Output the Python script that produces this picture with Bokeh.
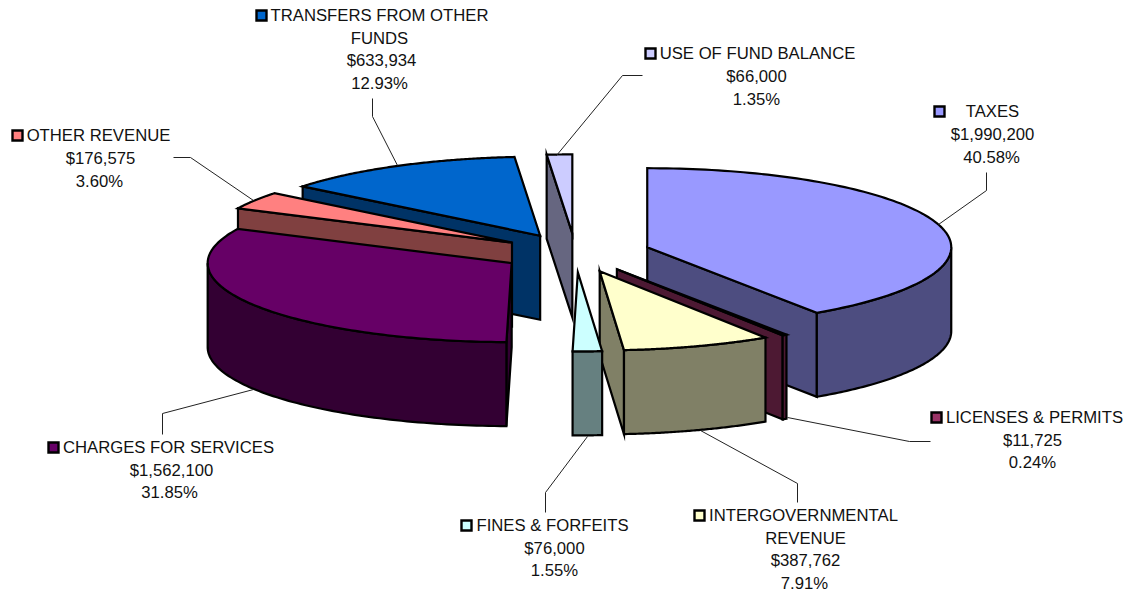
import numpy as np
from bokeh.plotting import figure
from bokeh.models import Range1d
from bokeh.core.properties import value
from bokeh.embed import file_html
from bokeh.resources import INLINE

# ---- data (clockwise from 12 o'clock) ----
names = ["TAXES", "LICENSES & PERMITS", "INTERGOVERNMENTAL REVENUE", "FINES & FORFEITS",
         "CHARGES FOR SERVICES", "OTHER REVENUE", "TRANSFERS FROM OTHER FUNDS", "USE OF FUND BALANCE"]
amounts = [1990200, 11725, 387762, 76000, 1562100, 176575, 633934, 66000]
percent_labels = ["40.58%", "0.24%", "7.91%", "1.55%", "31.85%", "3.60%", "12.93%", "1.35%"]
amount_labels = ["$1,990,200", "$11,725", "$387,762", "$76,000", "$1,562,100", "$176,575", "$633,934", "$66,000"]
top_colors = ["#9999FF", "#993366", "#FFFFCC", "#CCFFFF", "#660066", "#FF8080", "#0066CC", "#CCCCFF"]
side_colors = ["#4D4D80", "#4D1933", "#808066", "#668080", "#330033", "#804040", "#003366", "#666680"]

# ---- projection of the 3-D pie ----
CX, CY = 575.0, 252.4   # pie centre
RX, RY = 304.0, 79.0    # ellipse radii
DEPTH = 84.0            # height of the pie
EXPLODE = 75.0          # distance of every slice from the centre
DRAW_ORDER = [7, 6, 5, 4, 0, 1, 2, 3]

W, H = 1128, 594
p = figure(width=W, height=H, output_backend="svg", toolbar_location=None,
           x_range=Range1d(0, W), y_range=Range1d(H, 0),
           min_border=0, outline_line_color=None, background_fill_color="white",
           border_fill_color="white")
p.axis.visible = False
p.grid.visible = False

amt = np.array(amounts, dtype=float)
edges = np.concatenate([[0.0], np.cumsum(amt) / amt.sum() * 2 * np.pi])


def face(xs, ys, color):
    p.patch(list(xs), list(ys), fill_color=color, line_color="black", line_width=2.2,
            line_join="miter")


for i in DRAW_ORDER:
    s, e = edges[i], edges[i + 1]
    m = (s + e) / 2
    ax = CX + EXPLODE * np.sin(m)
    ay = CY - EXPLODE * np.cos(m) * RY / RX

    def px(t):
        return ax + RX * np.sin(t)

    def py(t):
        return ay - RY * np.cos(t)

    # radial faces that look at the viewer
    if np.sin(s) < -1e-6:
        face([ax, px(s), px(s), ax], [ay, py(s), py(s) + DEPTH, ay + DEPTH], side_colors[i])
    if np.sin(e) > 1e-6:
        face([ax, px(e), px(e), ax], [ay, py(e), py(e) + DEPTH, ay + DEPTH], side_colors[i])
    # outer wall, front half only
    a0, a1 = max(s, np.pi / 2), min(e, 3 * np.pi / 2)
    if a1 > a0:
        t = np.linspace(a0, a1, 80)
        face(np.concatenate([px(t), px(t[::-1])]),
             np.concatenate([py(t), py(t[::-1]) + DEPTH]), side_colors[i])
    # top
    t = np.linspace(s, e, 120)
    face(np.concatenate([[ax], px(t)]), np.concatenate([[ay], py(t)]), top_colors[i])

# ---- leader lines ----
leaders = [
    ([986, 986, 938], [172, 190, 224]),
    ([930, 909, 787], [441, 441, 417]),
    ([797, 797, 700], [502, 483, 430]),
    ([545, 545, 587], [512, 492, 436]),
    ([162, 162, 253], [434, 413, 389]),
    ([173, 190, 253], [157, 157, 200]),
    ([372, 372, 397], [98, 116, 165]),
    ([642, 622, 556], [75, 75, 155]),
]
for lx, ly in leaders:
    p.line(lx, ly, line_color="#222222", line_width=1)

# ---- labels ----
# index, legend-key position, list of (line text, centre x, y)
labels = [
    (0, (939, 111), [("TAXES", 992, 111), (amount_labels[0], 992, 134), (percent_labels[0], 991, 157)]),
    (1, (936, 417), [("LICENSES & PERMITS", 1034, 417), (amount_labels[1], 1032, 440), (percent_labels[1], 1032, 462)]),
    (2, (699, 515), [("INTERGOVERNMENTAL", 803, 515), ("REVENUE", 805, 538), (amount_labels[2], 805, 560), (percent_labels[2], 804, 583)]),
    (3, (466, 525), [("FINES & FORFEITS", 552, 525), (amount_labels[3], 554, 548), (percent_labels[3], 554, 570)]),
    (4, (53, 447), [("CHARGES FOR SERVICES", 168, 447), (amount_labels[4], 171, 470), (percent_labels[4], 169, 492)]),
    (5, (17, 135), [("OTHER REVENUE", 98, 135), (amount_labels[5], 100, 158), (percent_labels[5], 99, 181)]),
    (6, (261, 15), [("TRANSFERS FROM OTHER", 379, 15), ("FUNDS", 379, 38), (amount_labels[6], 381, 60), (percent_labels[6], 379, 83)]),
    (7, (650, 53), [("USE OF FUND BALANCE", 757, 53), (amount_labels[7], 756, 76), (percent_labels[7], 756, 99)]),
]
for idx, (kx, ky), lines in labels:
    p.rect([kx], [ky], width=10, height=10, fill_color=top_colors[idx], line_color="black", line_width=2.4,
           line_join="miter")
    for txt, tx, ty in lines:
        p.text([tx], [ty], text=[txt], text_font=value("Liberation Sans"), text_font_size="16.7px",
               text_align="center", text_baseline="middle", text_color="#111111")

open("out.html", "w").write(file_html(p, INLINE))
